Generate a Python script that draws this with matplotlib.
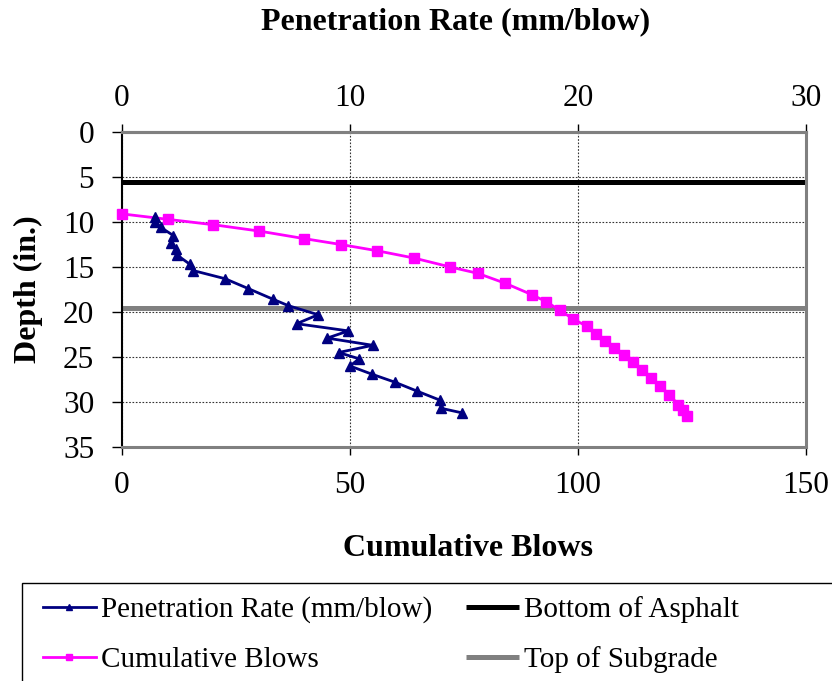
import matplotlib
matplotlib.use('Agg')
import matplotlib.pyplot as plt
from matplotlib.patches import Rectangle

plt.rcParams['font.family'] = ['Liberation Serif', 'DejaVu Serif']

# Cumulative blows vs depth (in.)
blows = [0, 10, 20, 30, 40, 48, 56, 64, 72, 78, 84, 90, 93, 96, 99, 102, 104,
         106, 108, 110, 112, 114, 116, 118, 120, 122, 123, 124]
blow_depth = [9.1, 9.7, 10.3, 11.0, 11.85, 12.5, 13.2, 14.0, 15.0, 15.7, 16.8,
              18.1, 18.85, 19.8, 20.8, 21.6, 22.4, 23.2, 24.0, 24.8, 25.6,
              26.4, 27.3, 28.2, 29.2, 30.3, 30.9, 31.5]

# Penetration rate (mm/blow) vs depth (in.)
rate = [1.45, 1.45, 1.7, 2.25, 2.13, 2.37, 2.43, 2.98, 3.13, 4.52, 5.54, 6.64,
        7.3, 8.6, 7.66, 9.93, 9.0, 11.0, 9.5, 10.4, 10.0, 10.95, 11.97, 12.95,
        13.95, 14.0, 14.9]
rate_depth = [9.4, 10.0, 10.6, 11.5, 12.3, 13.0, 13.7, 14.7, 15.4, 16.3, 17.4,
              18.6, 19.3, 20.3, 21.3, 22.1, 22.9, 23.7, 24.5, 25.2, 26.0, 26.9,
              27.8, 28.8, 29.8, 30.7, 31.2]

# layer boundaries
asphalt_x = [0, 150]
asphalt_depth = [5.5, 5.5]
subgrade_x = [0, 150]
subgrade_depth = [19.5, 19.5]

fig = plt.figure(figsize=(8.32, 6.81), dpi=100)
W, H = 832, 681
ax = fig.add_axes([122 / W, 1 - 447 / H, (806 - 122) / W, (447 - 132) / H])
ax2 = ax.twiny()

l_bot, = ax.plot(asphalt_x, asphalt_depth, color='black', lw=3.6, solid_capstyle='butt')
l_top, = ax.plot(subgrade_x, subgrade_depth, color='#808080', lw=3.6, solid_capstyle='butt')
l_cum, = ax.plot(blows, blow_depth, color='#FF00FF', lw=2, marker='s', ms=6.5,
                 clip_on=False, zorder=4)
l_pen, = ax2.plot(rate, rate_depth, color='#000080', lw=2, marker='^', ms=7,
                  clip_on=False, zorder=4)

ax.set_xlim(0, 150)
ax.set_ylim(35, 0)
ax2.set_xlim(0, 30)
ax.set_xticks([0, 50, 100, 150])
ax.set_yticks(range(0, 36, 5))
ax2.set_xticks([0, 10, 20, 30])

ax.grid(True, linestyle=(0, (1.5, 1.5)), color='#333333', lw=0.8)
ax.set_axisbelow(True)

for s in ['top', 'right', 'bottom']:
    ax.spines[s].set_color('#808080')
    ax.spines[s].set_linewidth(2.2)
ax.spines['left'].set_color('black')
ax.spines['left'].set_linewidth(1.5)
for s in ['left', 'right', 'bottom']:
    ax2.spines[s].set_visible(False)
ax2.spines['top'].set_color('#808080')
ax2.spines['top'].set_linewidth(2.2)

ax.tick_params(axis='y', direction='out', length=7, width=1, pad=13, labelsize=22.5)
ax.tick_params(axis='x', direction='out', length=6, width=1, pad=11.5, labelsize=22.5)
ax2.tick_params(axis='x', direction='out', length=6, width=1, pad=8, labelsize=22.5)

fig.text(456 / W, 1 - 22 / H, 'Penetration Rate (mm/blow)', ha='center', va='center',
         fontsize=23, fontweight='bold')
fig.text(468 / W, 1 - 549 / H, 'Cumulative Blows', ha='center', va='center',
         fontsize=23, fontweight='bold')
fig.text(28 / W, 1 - 289 / H, 'Depth (in.)', ha='center', va='center',
         fontsize=23, fontweight='bold', rotation=90)

# legend frame running off the figure edge, like the original
fig.add_artist(Rectangle((22 / W, -0.02), 1.0, (H - 583) / H + 0.02,
                         transform=fig.transFigure, fill=False,
                         edgecolor='black', lw=1))

fig.legend([l_pen, l_cum, l_bot, l_top],
           ['Penetration Rate (mm/blow)', 'Cumulative Blows',
            'Bottom of Asphalt', 'Top of Subgrade'],
           loc='upper left', bbox_to_anchor=(43 / W, 1 - 596 / H), ncol=2,
           frameon=False, fontsize=21, borderpad=0, borderaxespad=0,
           handlelength=1.8, handletextpad=0.2, columnspacing=1.15,
           labelspacing=0.8, markerscale=0.7)

fig.savefig('out.png', dpi=100)
